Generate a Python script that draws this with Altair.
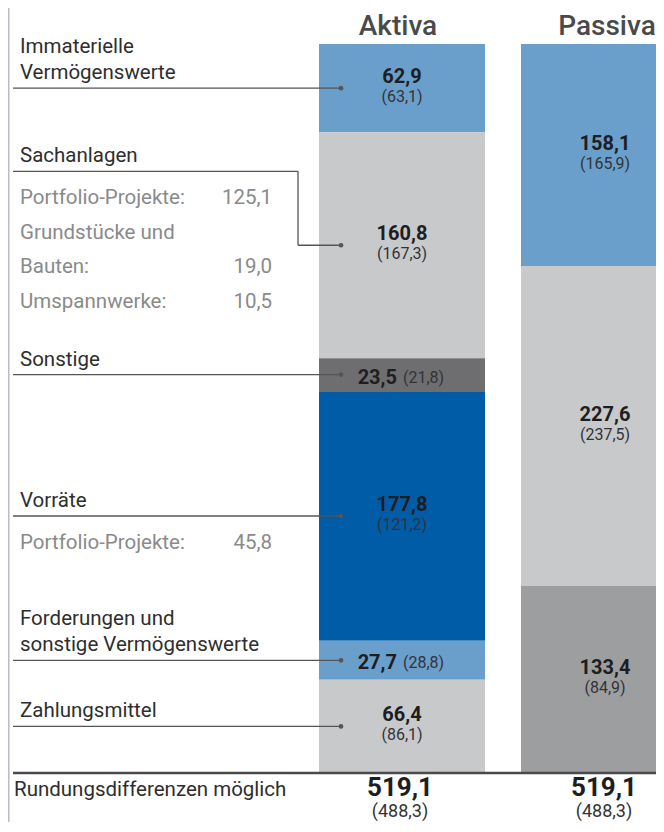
import altair as alt
import pandas as pd

# ---------------- data ----------------
aktiva_labels = [["Immaterielle", "Vermögenswerte"], ["Sachanlagen"], ["Sonstige"],
                 ["Vorräte"], ["Forderungen und", "sonstige Vermögenswerte"], ["Zahlungsmittel"]]
aktiva_values = [62.9, 160.8, 23.5, 177.8, 27.7, 66.4]
aktiva_prior = [63.1, 167.3, 21.8, 121.2, 28.8, 86.1]

passiva_values = [158.1, 227.6, 133.4]
passiva_prior = [165.9, 237.5, 84.9]

sach_sub_labels = ["Portfolio-Projekte:", "Grundstücke und", "Bauten:", "Umspannwerke:"]
sach_sub_values = ["125,1", "", "19,0", "10,5"]
vorr_sub_labels = ["Portfolio-Projekte:"]
vorr_sub_values = ["45,8"]

column_titles = ["Aktiva", "Passiva"]
total_value = 519.1
total_prior = 488.3
footnote = "Rundungsdifferenzen möglich"

# ---------------- styles / layout ----------------
aktiva_colors = ["#6a9fcb", "#c8c9cb", "#6e6e70", "#005ca6", "#6a9fcb", "#c8c9cb"]
passiva_colors = ["#6a9fcb", "#c8c9cb", "#9d9ea0"]
FONT = "Roboto"
TXT = "#2e2e2e"
SUB = "#8a8a8a"
LINE = "#555555"

W, H = 648, 814
BAR_TOP, BAR_BOT = 36, 765          # chart pixels of the bar stack
PPU = (BAR_BOT - BAR_TOP) / total_value


def px(p):
    return p / PPU


AKT_X = (319, 485)
PAS_X = (521, 687)
AKT_CX, PAS_CX = 402, 605
X_LABEL, X_LINE0, X_DOT, X_ELBOW, X_SUBVAL = 20, 13, 341, 298, 272

fmt = lambda v: f"{v:.1f}".replace(".", ",")


def stack(vals):
    s, out = 0.0, []
    for v in vals:
        out.append(s)
        s += v
    return out


a_start = stack(aktiva_values)
p_start = stack(passiva_values)
a_mid = [s + v / 2 for s, v in zip(a_start, aktiva_values)]
p_mid = [s + v / 2 for s, v in zip(p_start, passiva_values)]

xs = alt.Scale(domain=[8, 8 + W], range=[0, W], nice=False, zero=False)
ys = alt.Scale(domain=[0, total_value], range=[BAR_TOP, BAR_BOT], nice=False, zero=False)


def X(f):
    return alt.X(f, type="quantitative", scale=xs, axis=None)


def Y(f):
    return alt.Y(f, type="quantitative", scale=ys, axis=None)


# bars
rows = []
for s, v, c in zip(a_start, aktiva_values, aktiva_colors):
    rows.append(dict(x1=AKT_X[0], x2=AKT_X[1], y1=s, y2=s + v, color=c))
for s, v, c in zip(p_start, passiva_values, passiva_colors):
    rows.append(dict(x1=PAS_X[0], x2=PAS_X[1], y1=s, y2=s + v, color=c))
bars = alt.Chart(pd.DataFrame(rows)).mark_rect(clip=True).encode(
    x=X("x1"), x2="x2", y=Y("y1"), y2="y2", color=alt.Color("color:N", scale=None))

# leader lines
anchor = list(a_mid)
anchor[1] = a_start[1] + px(39)
segs = []
for i, m in enumerate(a_mid):
    if i == 1:
        segs.append(dict(x1=X_LINE0, x2=X_ELBOW, y1=anchor[1], y2=anchor[1]))
        segs.append(dict(x1=X_ELBOW, x2=X_ELBOW, y1=anchor[1], y2=m))
        segs.append(dict(x1=X_ELBOW, x2=X_DOT, y1=m, y2=m))
    else:
        segs.append(dict(x1=X_LINE0, x2=X_DOT, y1=m, y2=m))
leaders = alt.Chart(pd.DataFrame(segs)).mark_rule(color=LINE, strokeWidth=1.3).encode(
    x=X("x1"), x2="x2", y=Y("y1"), y2="y2")
dots = alt.Chart(pd.DataFrame(dict(x=[X_DOT] * len(a_mid), y=a_mid))).mark_circle(
    size=22, color=LINE, opacity=1).encode(x=X("x"), y=Y("y"))

# total line and left border
total_line = alt.Chart(pd.DataFrame(dict(x1=[X_LINE0], x2=[700], y=[total_value]))).mark_rule(
    color="#4a4a4a", strokeWidth=2.5, clip=True).encode(x=X("x1"), x2="x2", y=Y("y"))
border = alt.Chart(pd.DataFrame(dict(x=[8], y1=[-px(39)], y2=[total_value + px(60)]))).mark_rule(
    color="#b8bcc4", strokeWidth=3).encode(x=X("x"), y=Y("y1"), y2="y2")


def text_layer(rows, **kw):
    return alt.Chart(pd.DataFrame(rows)).mark_text(font=FONT, **kw).encode(
        x=X("x"), y=Y("y"), text="t:N")


# main labels
main_rows = []
for i, lines in enumerate(aktiva_labels):
    n = len(lines)
    for k, t in enumerate(lines):
        main_rows.append(dict(x=X_LABEL, y=anchor[i] - px(9) - px(26) * (n - 1 - k), t=t))
main_rows.append(dict(x=14, y=total_value + px(23), t=footnote))
main_text = text_layer(main_rows, align="left", baseline="alphabetic", fontSize=20.5, color=TXT)

# gray sub labels
sub_rows, subval_rows = [], []
for base, labs, vals in [(anchor[1], sach_sub_labels, sach_sub_values),
                         (anchor[3], vorr_sub_labels, vorr_sub_values)]:
    for k, (l, v) in enumerate(zip(labs, vals)):
        yy = base + px(33) + px(34.5) * k
        sub_rows.append(dict(x=X_LABEL, y=yy, t=l))
        if v:
            subval_rows.append(dict(x=X_SUBVAL, y=yy, t=v))
sub_text = text_layer(sub_rows, align="left", baseline="alphabetic", fontSize=20.5, color=SUB)
subval_text = text_layer(subval_rows, align="right", baseline="alphabetic", fontSize=20.5, color=SUB)

# value labels in bars
bold_c, paren_c, bold_r, paren_l = [], [], [], []
for cx, mids, vals, prs in [(AKT_CX, a_mid, aktiva_values, aktiva_prior),
                            (PAS_CX, p_mid, passiva_values, passiva_prior)]:
    for m, v, p in zip(mids, vals, prs):
        if v < 40:
            bold_r.append(dict(x=cx - 5, y=m + px(3), t=fmt(v)))
            paren_l.append(dict(x=cx + 1, y=m + px(3), t=f"({fmt(p)})"))
        else:
            bold_c.append(dict(x=cx, y=m - px(11), t=fmt(v)))
            paren_c.append(dict(x=cx, y=m + px(9), t=f"({fmt(p)})"))
bold_c_t = text_layer(bold_c, align="center", baseline="middle", fontSize=20, fontWeight="bold", color="#1e1e22")
paren_c_t = text_layer(paren_c, align="center", baseline="middle", fontSize=16, color="#333338")
bold_r_t = text_layer(bold_r, align="right", baseline="middle", fontSize=20, fontWeight="bold", color="#1e1e22")
paren_l_t = text_layer(paren_l, align="left", baseline="middle", fontSize=16, color="#333338")

# titles and totals
title_t = text_layer([dict(x=398, y=-px(9), t=column_titles[0]),
                      dict(x=607, y=-px(9), t=column_titles[1])],
                     align="center", baseline="alphabetic", fontSize=28, fontWeight=500, color="#4a4a4a")
tot_t = text_layer([dict(x=400, y=total_value + px(23), t=fmt(total_value)),
                    dict(x=604, y=total_value + px(23), t=fmt(total_value))],
                   align="center", baseline="alphabetic", fontSize=26, fontWeight="bold", color="#1e1e22")
totp_t = text_layer([dict(x=400, y=total_value + px(44), t=f"({fmt(total_prior)})"),
                     dict(x=604, y=total_value + px(44), t=f"({fmt(total_prior)})")],
                    align="center", baseline="alphabetic", fontSize=18, color="#333338")

chart = alt.layer(
    bars, border, total_line, leaders, dots, main_text, sub_text, subval_text,
    bold_c_t, paren_c_t, bold_r_t, paren_l_t, title_t, tot_t, totp_t
).properties(
    width=W, height=H, padding=0, autosize=alt.AutoSizeParams(type="none")
).configure_view(stroke=None)

chart.save("out.html", embed_options={"renderer": "svg", "actions": False})
